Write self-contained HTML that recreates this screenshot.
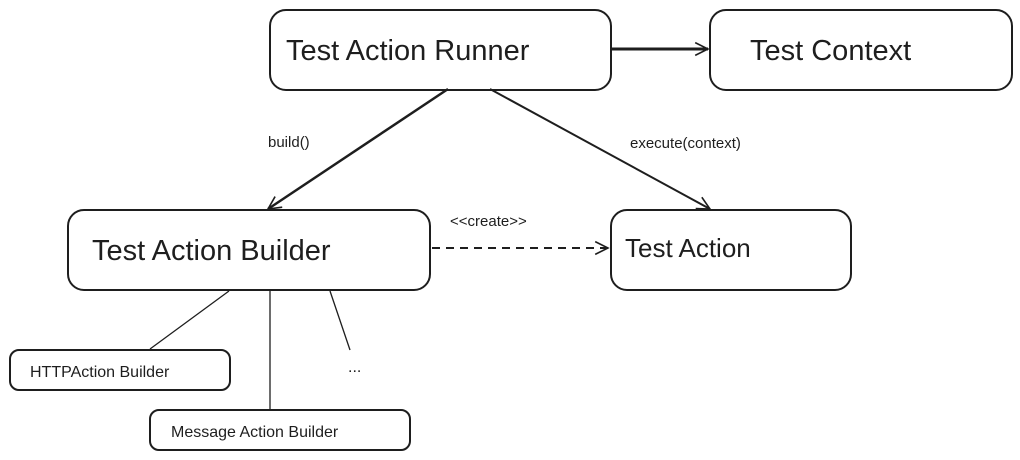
<!DOCTYPE html>
<html><head><meta charset="utf-8"><style>
html,body{margin:0;padding:0;background:#fff;}
svg{display:block}
text{font-family:"Liberation Sans","DejaVu Sans",sans-serif;fill:#1e1e1e}
</style></head><body>
<svg width="1020" height="460" viewBox="0 0 1020 460">
<defs>
<marker id="a" viewBox="0 0 20 20" refX="18" refY="10" markerWidth="16" markerHeight="16" orient="auto" markerUnits="userSpaceOnUse">
<path d="M2 2 L18 10 L2 18" fill="none" stroke="#1e1e1e" stroke-width="2"/>
</marker>
</defs>
<g fill="none" stroke="#1e1e1e" stroke-width="2">
<rect x="270" y="10" width="341" height="80" rx="16"/>
<rect x="710" y="10" width="302" height="80" rx="16"/>
<rect x="68" y="210" width="362" height="80" rx="16"/>
<rect x="611" y="210" width="240" height="80" rx="16"/>
<rect x="10" y="350" width="220" height="40" rx="9"/>
<rect x="150" y="410" width="260" height="40" rx="9"/>
<line x1="611" y1="49" x2="708" y2="49" stroke-width="3" marker-end="url(#a)"/>
<line x1="448" y1="89" x2="268" y2="209" stroke-width="2.5" marker-end="url(#a)"/>
<line x1="490" y1="89" x2="710" y2="209" marker-end="url(#a)"/>
<line x1="432" y1="248" x2="608" y2="248" stroke-dasharray="8 6" marker-end="url(#a)"/>
<line x1="229" y1="291" x2="150" y2="349" stroke-width="1.3"/>
<line x1="270" y1="291" x2="270" y2="409" stroke-width="1.3"/>
<line x1="330" y1="291" x2="350" y2="350" stroke-width="1.3"/>
</g>
<text x="286" y="60" font-size="29">Test Action Runner</text>
<text x="750" y="60" font-size="29">Test Context</text>
<text x="92" y="260" font-size="29">Test Action Builder</text>
<text x="625" y="257" font-size="26">Test Action</text>
<text x="30" y="377" font-size="16">HTTPAction Builder</text>
<text x="171" y="437" font-size="16">Message Action Builder</text>
<text x="348" y="372" font-size="16">...</text>
<text x="268" y="147" font-size="15">build()</text>
<text x="630" y="148" font-size="15">execute(context)</text>
<text x="450" y="226" font-size="15">&lt;&lt;create&gt;&gt;</text>
</svg>
</body></html>
